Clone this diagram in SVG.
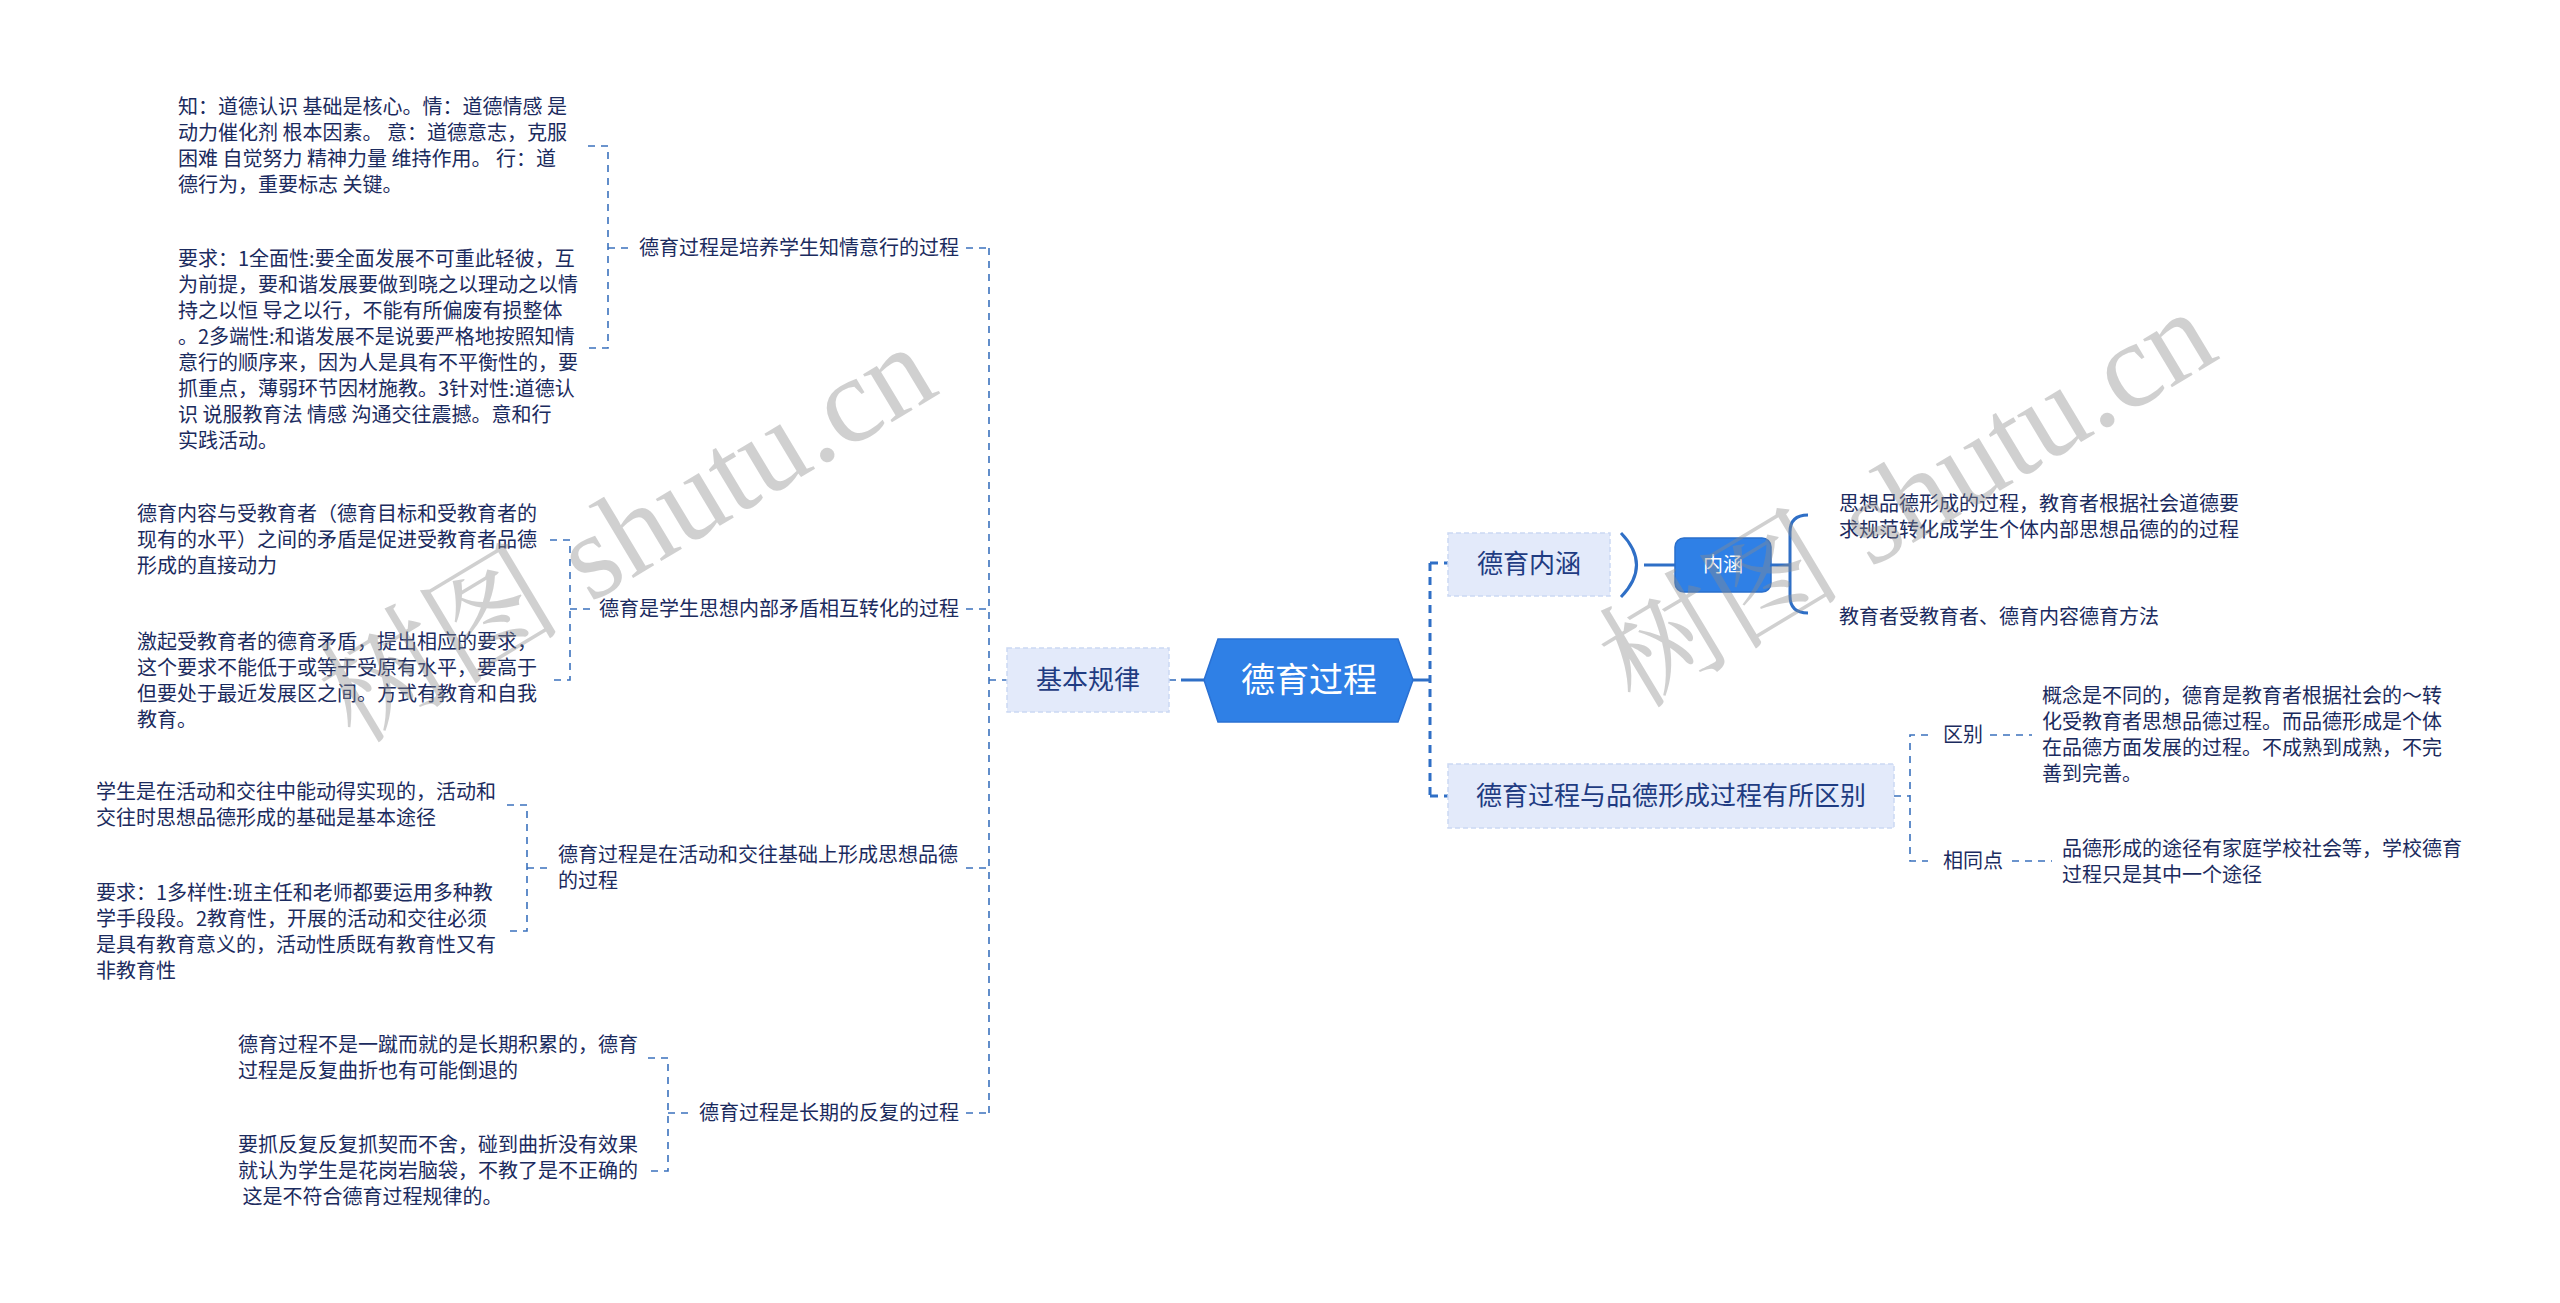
<svg xmlns="http://www.w3.org/2000/svg" width="2560" height="1303" viewBox="0 0 2560 1303">
<style>
.t{font-family:"Noto Sans CJK SC","Liberation Sans",sans-serif;font-size:20px;fill:#1b2b5e}
.l1{font-family:"Noto Sans CJK SC","Liberation Sans",sans-serif;font-size:26px;fill:#1f3c82}
.c{font-family:"Noto Sans CJK SC","Liberation Sans",sans-serif;font-size:34px;fill:#ffffff}
.w{font-family:"Noto Sans CJK SC","Liberation Sans",sans-serif;font-size:20px;fill:#ffffff}
.box1{fill:#e3eafa;stroke:#ccd9f3;stroke-width:1.5;stroke-dasharray:5 3}
.thin{stroke:#3b72bd;stroke-width:1.6;fill:none;stroke-dasharray:7 6}
.thick{stroke:#2f6fc6;stroke-width:3;fill:none;stroke-dasharray:8 6}
.solid{stroke:#2f6fc6;stroke-width:3;fill:none}
.wm{font-family:"Liberation Serif","Noto Serif CJK SC","Noto Sans CJK SC",serif;font-size:122px;fill:#8c8c8c;opacity:0.4}
</style>
<g id="connectors">
<path class="thin" d="M989,248 V1113"/>
<path class="thin" d="M989,680 H1007"/>
<path class="thin" d="M1169,680 H1178"/>
<path class="solid" d="M1181,680 H1205"/>
<path class="thin" d="M966,248 H989 M966,609 H989 M966,868 H989 M966,1113 H989"/>
<path class="thin" d="M588,146 H608 V348 H588 M608,248 H632"/>
<path class="thin" d="M550,540 H570 V680 H550 M570,609 H592"/>
<path class="thin" d="M507,805 H527 V931 H507 M527,868 H551"/>
<path class="thin" d="M648,1058 H668 V1171 H648 M668,1113 H692"/>
<path class="solid" d="M1413,680 H1430"/>
<path class="thick" d="M1430,563 V796"/>
<path class="thick" d="M1430,563 H1448 M1430,796 H1448"/>
<path class="solid" d="M1621,533 Q1652,565 1621,597"/>
<path class="solid" d="M1644,565 H1675"/>
<path class="solid" d="M1771,565 H1790"/>
<path class="solid" d="M1808,515 Q1790,515 1790,532 V596 Q1790,613 1808,613"/>
<path class="thin" d="M1894,796 H1910 M1928,735 H1910 V861 H1928"/>
<path class="thin" d="M1990,735 H2032 M2012,861 H2052"/>
</g>
<g id="center">
<polygon points="1204,680 1218,639 1398,639 1413,680 1398,722 1218,722" fill="#2f80e6" stroke="#2a70d2" stroke-width="1.5"/>
<text class="c" x="1309" y="692" text-anchor="middle">德育过程</text>
</g>
<g id="n-jiben">
<rect class="box1" x="1007" y="648" width="162" height="64"/>
<text class="l1" x="1088" y="689" text-anchor="middle">基本规律</text>
</g>
<g id="n-neihan-main">
<rect class="box1" x="1448" y="533" width="162" height="63"/>
<text class="l1" x="1529" y="573" text-anchor="middle">德育内涵</text>
</g>
<g id="n-neihan">
<rect x="1675" y="538" width="96" height="54" rx="9" fill="#2f80e6" stroke="#2a6fcc" stroke-width="1.5"/>
<text class="w" x="1723" y="572" text-anchor="middle">内涵</text>
</g>
<g id="n-neihan-1">
<text class="t"><tspan x="1839" y="511">思想品德形成的过程，教育者根据社会道德要</tspan><tspan x="1839" y="537">求规范转化成学生个体内部思想品德的的过程</tspan></text>
</g>
<g id="n-neihan-2">
<text class="t" x="1839" y="624">教育者受教育者、德育内容德育方法</text>
</g>
<g id="n-qubie-main">
<rect class="box1" x="1448" y="764" width="446" height="64"/>
<text class="l1" x="1671" y="805" text-anchor="middle">德育过程与品德形成过程有所区别</text>
</g>
<g id="n-qubie"><text class="t" x="1943" y="742">区别</text></g>
<g id="n-qubie-1">
<text class="t"><tspan x="2042" y="703">概念是不同的，德育是教育者根据社会的～转</tspan><tspan x="2042" y="729">化受教育者思想品德过程。而品德形成是个体</tspan><tspan x="2042" y="755">在品德方面发展的过程。不成熟到成熟，不完</tspan><tspan x="2042" y="781">善到完善。</tspan></text>
</g>
<g id="n-xiangtong"><text class="t" x="1943" y="868">相同点</text></g>
<g id="n-xiangtong-1">
<text class="t"><tspan x="2062" y="856">品德形成的途径有家庭学校社会等，学校德育</tspan><tspan x="2062" y="882">过程只是其中一个途径</tspan></text>
</g>
<g id="n-l1">
<text class="t" x="639" y="255">德育过程是培养学生知情意行的过程</text>
</g>
<g id="n-l1-a">
<text class="t"><tspan x="178" y="114">知：道德认识 基础是核心。情：道德情感 是</tspan><tspan x="178" y="140">动力催化剂 根本因素。 意：道德意志，克服</tspan><tspan x="178" y="166">困难 自觉努力 精神力量 维持作用。 行：道</tspan><tspan x="178" y="192">德行为，重要标志 关键。</tspan></text>
</g>
<g id="n-l1-b">
<text class="t"><tspan x="178" y="266">要求：1全面性:要全面发展不可重此轻彼，互</tspan><tspan x="178" y="292">为前提，要和谐发展要做到晓之以理动之以情</tspan><tspan x="178" y="318">持之以恒 导之以行，不能有所偏废有损整体</tspan><tspan x="178" y="344">。2多端性:和谐发展不是说要严格地按照知情</tspan><tspan x="178" y="370">意行的顺序来，因为人是具有不平衡性的，要</tspan><tspan x="178" y="396">抓重点，薄弱环节因材施教。3针对性:道德认</tspan><tspan x="178" y="422">识 说服教育法 情感 沟通交往震撼。意和行</tspan><tspan x="178" y="448">实践活动。</tspan></text>
</g>
<g id="n-l2">
<text class="t" x="599" y="616">德育是学生思想内部矛盾相互转化的过程</text>
</g>
<g id="n-l2-a">
<text class="t"><tspan x="137" y="521">德育内容与受教育者（德育目标和受教育者的</tspan><tspan x="137" y="547">现有的水平）之间的矛盾是促进受教育者品德</tspan><tspan x="137" y="573">形成的直接动力</tspan></text>
</g>
<g id="n-l2-b">
<text class="t"><tspan x="137" y="649">激起受教育者的德育矛盾，提出相应的要求，</tspan><tspan x="137" y="675">这个要求不能低于或等于受原有水平，要高于</tspan><tspan x="137" y="701">但要处于最近发展区之间。方式有教育和自我</tspan><tspan x="137" y="727">教育。</tspan></text>
</g>
<g id="n-l3">
<text class="t"><tspan x="558" y="862">德育过程是在活动和交往基础上形成思想品德</tspan><tspan x="558" y="888">的过程</tspan></text>
</g>
<g id="n-l3-a">
<text class="t"><tspan x="96" y="799">学生是在活动和交往中能动得实现的，活动和</tspan><tspan x="96" y="825">交往时思想品德形成的基础是基本途径</tspan></text>
</g>
<g id="n-l3-b">
<text class="t"><tspan x="96" y="900">要求：1多样性:班主任和老师都要运用多种教</tspan><tspan x="96" y="926">学手段段。2教育性，开展的活动和交往必须</tspan><tspan x="96" y="952">是具有教育意义的，活动性质既有教育性又有</tspan><tspan x="96" y="978">非教育性</tspan></text>
</g>
<g id="n-l4">
<text class="t" x="699" y="1120">德育过程是长期的反复的过程</text>
</g>
<g id="n-l4-a">
<text class="t"><tspan x="238" y="1052">德育过程不是一蹴而就的是长期积累的，德育</tspan><tspan x="238" y="1078">过程是反复曲折也有可能倒退的</tspan></text>
</g>
<g id="n-l4-b">
<text class="t"><tspan x="238" y="1152">要抓反复反复抓契而不舍，碰到曲折没有效果</tspan><tspan x="238" y="1178">就认为学生是花岗岩脑袋，不教了是不正确的</tspan><tspan x="238" y="1204"> 这是不符合德育过程规律的。</tspan></text>
</g>
<g id="watermark">
<text class="wm" x="355" y="745" transform="rotate(-31 355 745)">树图 shutu.cn</text>
<text class="wm" x="1635" y="710" transform="rotate(-31 1635 710)">树图 shutu.cn</text>
</g>
</svg>
